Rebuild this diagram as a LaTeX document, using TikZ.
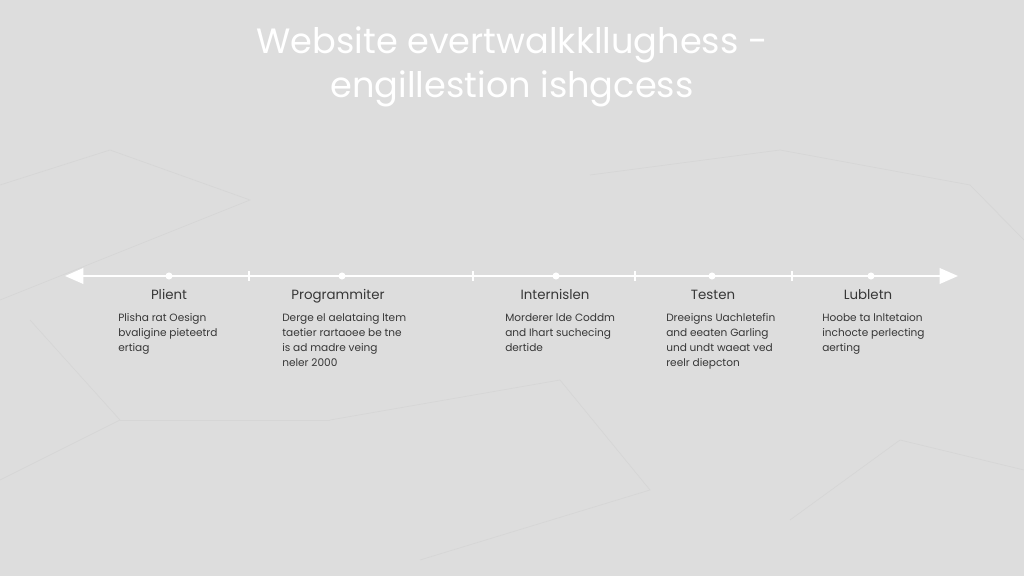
\documentclass[tikz,border=0pt]{standalone}
\usepackage{fontspec}
\setmainfont{Poppins}
\usetikzlibrary{arrows.meta, positioning}
\definecolor{bggray}{RGB}{221,221,221}
\definecolor{inkgray}{RGB}{55,55,55}
\definecolor{netgray}{RGB}{214,214,214}
\tikzstyle{heading} = [text=white, font=\fontsize{25}{31}\selectfont, align=center]
\tikzstyle{stage} = [anchor=base, text=inkgray, font=\fontsize{9.5}{12}\selectfont]
\tikzstyle{desc} = [anchor=north west, align=left, inner sep=0pt, text=inkgray, font=\fontsize{7.5}{10.7}\selectfont]
\tikzstyle{dot} = [circle, fill=white, inner sep=0pt, minimum size=5pt]
\tikzstyle{tick} = [white, line width=1pt]
\tikzstyle{arrow} = [white, line width=1.5pt, {Triangle[length=13pt,width=11pt]}-{Triangle[length=13pt,width=11pt]}]
\tikzstyle{net} = [netgray, line width=0.5pt]

\begin{document}
\begin{tikzpicture}[x=0.025cm, y=-0.025cm]
\fill[bggray] (0,0) rectangle (1024,576);
\useasboundingbox (0,0) rectangle (1024,576);

% faint network in the background
\draw[net] (0,185) -- (110,150) -- (250,200) -- (0,300);
\draw[net] (590,175) -- (780,150) -- (970,185) -- (1024,240);
\draw[net] (30,320) -- (120,420) -- (0,480);
\draw[net] (330,420) -- (560,380) -- (650,490) -- (420,560);
\draw[net] (790,520) -- (900,440) -- (1024,470);
\draw[net] (120,420) -- (330,420);

% title
\node (title) [heading] at (512,67) {Website evertwalkkllughess -\\engillestion ishgcess};

% timeline
\coordinate (tl) at (65,276);
\coordinate (tr) at (958,276);
\draw [arrow] (tl) -- (tr);

\node (dot1) [dot] at (169,276) {};
\node (dot2) [dot] at (342,276) {};
\node (dot3) [dot] at (556,276) {};
\node (dot4) [dot] at (712,276) {};
\node (dot5) [dot] at (871,276) {};

\draw [tick] (249,271) -- (249,281);
\draw [tick] (473,271) -- (473,281);
\draw [tick] (635,271) -- (635,281);
\draw [tick] (792,271) -- (792,281);

% stages
\node (name1) [stage] at (169,300) {Plient};
\node (name2) [stage] at (338,300) {Programmiter};
\node (name3) [stage] at (555,300) {Internislen};
\node (name4) [stage] at (713,300) {Testen};
\node (name5) [stage] at (868,300) {Lubletn};

\node (desc1) [desc] at (118,313) {Plisha rat Oesign\\bvaligine pieteetrd\\ertiag};
\node (desc2) [desc] at (282,313) {Derge el aelataing ltem\\taetier rartaoee be tne\\is ad madre veing\\neler 2000};
\node (desc3) [desc] at (505,313) {Morderer lde Coddm\\and Ihart suchecing\\dertide};
\node (desc4) [desc] at (666,313) {Dreeigns Uachletefin\\and eeaten Garling\\und undt waeat ved\\reelr diepcton};
\node (desc5) [desc] at (822,313) {Hoobe ta lnltetaion\\inchocte perlecting\\aerting};

\end{tikzpicture}
\end{document}
